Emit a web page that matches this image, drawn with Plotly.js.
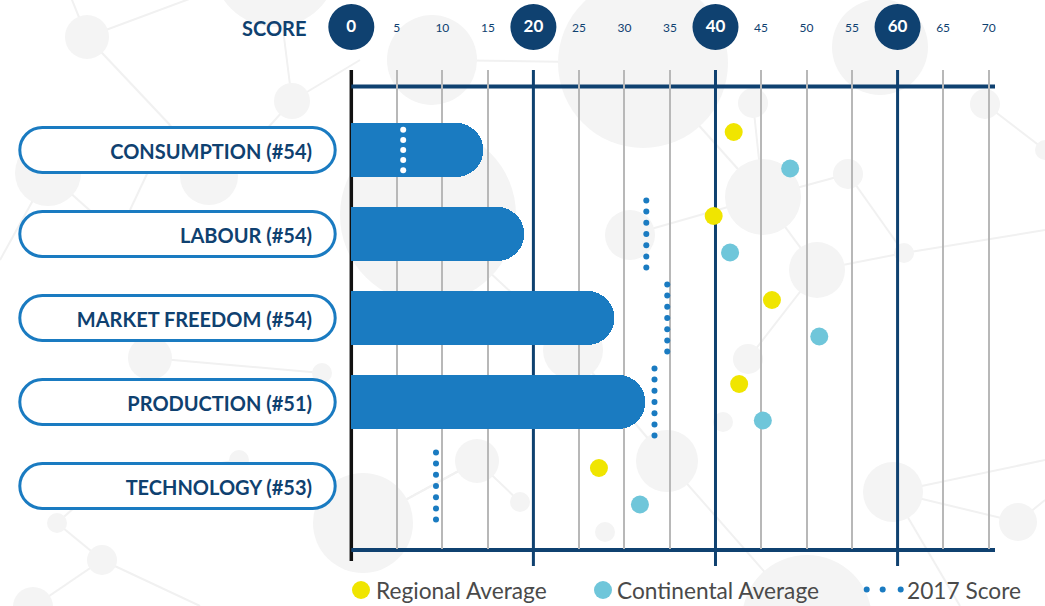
<!DOCTYPE html>
<html>
<head>
<meta charset="utf-8">
<script src="https://cdn.plot.ly/plotly-3.0.1.min.js"></script>
<style>
html,body{margin:0;padding:0;background:#ffffff;}
#chart{width:1045px;height:606px;}
</style>
</head>
<body>
<div id="chart"></div>
<script>
// ---------- data ----------
const categories = ['CONSUMPTION (#54)', 'LABOUR (#54)', 'MARKET FREEDOM (#54)', 'PRODUCTION (#51)', 'TECHNOLOGY (#53)'];
const scores = [14.5, 19.0, 28.9, 32.3, 0];
const score2017 = [5.7, 32.4, 34.7, 33.3, 9.3];
const regionalAvg = [42.0, 39.8, 46.2, 42.6, 27.2];
const continentalAvg = [48.2, 41.6, 51.4, 45.2, 31.7];
const scoreTicks = [0, 5, 10, 15, 20, 25, 30, 35, 40, 45, 50, 55, 60, 65, 70];
const highlightTicks = [0, 20, 40, 60];
const legendLabels = ['Regional Average', 'Continental Average', '2017 Score'];
const axisTitle = 'SCORE';

// ---------- style ----------
const NAVY = '#0f4170';
const BLUE = '#1a7bc1';
const YELLOW = '#f0e500';
const CYAN = '#6fc6da';
const GRID = '#b8b8b8';
const BGC = '#f4f4f4';
const W = 1045, H = 606, L = 324, R = 50, T = 70, B = 57;
const PW = W - L - R, PH = H - T - B;
const ROW = 84;
const yTopVal = -(150 - T) / ROW;
const yBotVal = (H - B - 150) / ROW;
const XMAX = 70.7;
const py = p => (H - B - p) / PH;     // page pixel y -> paper
const px = p => (p - L) / PW;         // page pixel x -> paper

const rows = categories.map((c, i) => i);

// ---------- traces ----------
const barTrace = {
  type: 'bar', orientation: 'h',
  x: scores, y: rows, width: 54 / ROW,
  marker: {color: BLUE, cornerradius: '50%', line: {width: 0}},
  hoverinfo: 'skip', showlegend: false
};

const dotX = [], dotY = [], dotC = [];
rows.forEach(i => {
  const inside = score2017[i] < scores[i];
  const n = inside ? 5 : 7;
  const step = inside ? 10.1 / ROW : 11.2 / ROW;
  for (let k = 0; k < n; k++) {
    dotX.push(score2017[i]);
    dotY.push(i + (k - (n - 1) / 2) * step);
    dotC.push(inside ? '#ffffff' : BLUE);
  }
});
const dotTrace = {
  type: 'scatter', mode: 'markers', x: dotX, y: dotY,
  marker: {size: 6, color: dotC, line: {width: 0}},
  hoverinfo: 'skip', showlegend: false, cliponaxis: false
};

const regTrace = {
  type: 'scatter', mode: 'markers', x: regionalAvg, y: rows.map(i => i - 18 / ROW),
  marker: {size: 18, color: YELLOW, line: {width: 0}},
  hoverinfo: 'skip', showlegend: false, cliponaxis: false
};
const conTrace = {
  type: 'scatter', mode: 'markers', x: continentalAvg, y: rows.map(i => i + 18.5 / ROW),
  marker: {size: 18, color: CYAN, line: {width: 0}},
  hoverinfo: 'skip', showlegend: false, cliponaxis: false
};

// ---------- decoration shapes ----------
const shapes = [];
function bgCircle(cx, cy, r) {
  shapes.push({type: 'circle', xref: 'paper', yref: 'paper', xsizemode: 'pixel', ysizemode: 'pixel',
    xanchor: 0, yanchor: 0, x0: cx - L - r, x1: cx - L + r, y0: (H - B) - cy - r, y1: (H - B) - cy + r,
    fillcolor: BGC, line: {width: 0}, layer: 'below'});
}
function bgLine(xa, ya, xb, yb) {
  shapes.push({type: 'line', xref: 'paper', yref: 'paper', xsizemode: 'pixel', ysizemode: 'pixel',
    xanchor: 0, yanchor: 0, x0: xa - L, x1: xb - L, y0: (H - B) - ya, y1: (H - B) - yb,
    line: {color: '#f1f1f1', width: 2}, layer: 'below'});
}
[[87,37,200,-5],[87,37,70,-5],[87,37,170,125],[170,125,209,176],[170,125,130,210],[292,101,360,60],[292,101,230,170],
 [275,-35,292,101],[432,60,643,63],[643,63,763,197],[763,197,848,174],[763,197,817,270],[848,174,904,253],
 [817,270,904,253],[753,103,763,197],[817,270,748,359],[630,235,763,197],[985,104,1045,150],[904,253,1045,230],
 [893,492,1018,522],[893,492,1045,460],[667,461,807,620],[477,461,520,502],[477,461,363,523],[150,358,322,373],
 [239,460,102,483],[102,483,57,523],[57,523,102,560],[102,560,33,607],[102,560,200,606],[428,215,573,350],
 [573,350,667,461],[124,241,48,173],[48,173,0,260],[893,492,960,606],[363,523,477,461],[1018,522,1045,500]]
 .forEach(l => bgLine(...l));
[[87,37,22],[292,101,18],[275,-35,62],[432,60,45],[643,63,85],[880,47,48],[763,197,38],[848,174,15],[817,270,28],
 [904,253,10],[748,359,15],[753,103,15],[985,104,15],[630,235,25],[667,461,31],[723,422,10],[477,461,22],[520,502,10],
 [605,532,10],[363,523,50],[573,350,30],[428,215,88],[48,173,33],[209,176,29],[124,241,14],[150,358,22],[322,373,10],
 [239,460,10],[102,483,10],[57,523,10],[102,560,15],[33,607,20],[1018,522,19],[893,492,30],[807,620,65],[1045,150,10]]
 .forEach(c => bgCircle(...c));

// vertical reference lines
highlightTicks.filter(v => v !== 0).forEach(v => {
  shapes.push({type: 'line', xref: 'x', yref: 'paper', x0: v, x1: v, y0: py(566), y1: 1,
    line: {color: NAVY, width: 3}, layer: 'below'});
});
shapes.push({type: 'line', xref: 'x', yref: 'paper', x0: 0, x1: 0, y0: py(561), y1: 1,
  line: {color: '#111111', width: 3.5}, layer: 'below'});
// top & bottom horizontal lines
shapes.push({type: 'line', xref: 'x', yref: 'paper', x0: 0, x1: XMAX, y0: py(86.5), y1: py(86.5),
  line: {color: NAVY, width: 4}, layer: 'below'});
shapes.push({type: 'line', xref: 'x', yref: 'paper', x0: 0, x1: XMAX, y0: py(550), y1: py(550),
  line: {color: NAVY, width: 4}, layer: 'below'});
// tick circles
highlightTicks.forEach(v => {
  shapes.push({type: 'circle', xref: 'x', yref: 'paper', xsizemode: 'pixel', ysizemode: 'pixel',
    xanchor: v, yanchor: py(27), x0: -23, x1: 23, y0: -23, y1: 23,
    fillcolor: NAVY, line: {width: 0}, layer: 'below'});
});
// category pills
function pill(x0, x1, h) {
  const r = h, k = 0.5523 * r;
  return `M${x0 + r},${h} L${x1 - r},${h} C${x1 - r + k},${h} ${x1},${k} ${x1},0 C${x1},${-k} ${x1 - r + k},${-h} ${x1 - r},${-h} ` +
         `L${x0 + r},${-h} C${x0 + r - k},${-h} ${x0},${-k} ${x0},0 C${x0},${k} ${x0 + r - k},${h} ${x0 + r},${h} Z`;
}
rows.forEach(i => {
  shapes.push({type: 'path', xref: 'paper', yref: 'y', xsizemode: 'pixel', ysizemode: 'pixel',
    xanchor: 0, yanchor: i, path: pill(19.8 - L, 335.2 - L, 22.5),
    fillcolor: '#ffffff', line: {color: BLUE, width: 3}, layer: 'below'});
});
// legend symbols
shapes.push({type: 'circle', xref: 'paper', yref: 'paper', xsizemode: 'pixel', ysizemode: 'pixel',
  xanchor: px(361), yanchor: py(590), x0: -9, x1: 9, y0: -9, y1: 9, fillcolor: YELLOW, line: {width: 0}});
shapes.push({type: 'circle', xref: 'paper', yref: 'paper', xsizemode: 'pixel', ysizemode: 'pixel',
  xanchor: px(603), yanchor: py(590), x0: -9, x1: 9, y0: -9, y1: 9, fillcolor: CYAN, line: {width: 0}});
[866.7, 882.7, 900.7].forEach(x => {
  shapes.push({type: 'circle', xref: 'paper', yref: 'paper', xsizemode: 'pixel', ysizemode: 'pixel',
    xanchor: px(x), yanchor: py(589.5), x0: -3, x1: 3, y0: -3, y1: 3, fillcolor: BLUE, line: {width: 0}});
});

// ---------- annotations ----------
const legendFont = {family: 'Lato', size: 22.7, color: '#4a4a4a'};
const annotations = [
  {text: axisTitle, xref: 'paper', yref: 'paper', x: px(274), y: py(27.5), xanchor: 'center', yanchor: 'middle',
   showarrow: false, font: {family: 'Lato', size: 20, color: NAVY, weight: 'bold'}},
  {text: legendLabels[0], xref: 'paper', yref: 'paper', x: px(374), y: py(590.5), xanchor: 'left', yanchor: 'middle',
   showarrow: false, font: legendFont},
  {text: legendLabels[1], xref: 'paper', yref: 'paper', x: px(615), y: py(590.5), xanchor: 'left', yanchor: 'middle',
   showarrow: false, font: legendFont},
  {text: legendLabels[2], xref: 'paper', yref: 'paper', x: px(905), y: py(590.5), xanchor: 'left', yanchor: 'middle',
   showarrow: false, font: legendFont}
];

// ---------- layout ----------
const layout = {
  width: W, height: H,
  margin: {l: L, r: R, t: T, b: B, pad: 0},
  paper_bgcolor: '#ffffff', plot_bgcolor: 'rgba(0,0,0,0)',
  showlegend: false, hovermode: false, bargap: 0,
  xaxis: {
    range: [-3, XMAX], side: 'top', showline: false, zeroline: false, showgrid: false,
    tickmode: 'array', tickvals: scoreTicks,
    ticktext: scoreTicks.map(v => highlightTicks.includes(v)
      ? `<span style="font-size:17px;font-weight:bold;color:#ffffff">${v}</span>` : `${v}`),
    ticks: '', ticklabelstandoff: 35,
    tickfont: {family: 'Lato', size: 12, color: NAVY},
    minor: {tickvals: scoreTicks.filter(v => !highlightTicks.includes(v)), showgrid: true, gridcolor: GRID, gridwidth: 2, ticks: ''},
    fixedrange: true
  },
  yaxis: {
    range: [yBotVal, yTopVal], showline: false, zeroline: false, showgrid: false,
    tickmode: 'array', tickvals: rows, ticktext: categories, ticks: '', ticklabelstandoff: 11,
    ticklabelshift: -2,
    tickfont: {family: 'Lato', size: 20, color: NAVY, weight: 'bold'},
    fixedrange: true
  },
  shapes: shapes,
  annotations: annotations
};

Plotly.newPlot('chart', [barTrace, dotTrace, regTrace, conTrace], layout, {displayModeBar: false, staticPlot: true});
</script>
</body>
</html>
